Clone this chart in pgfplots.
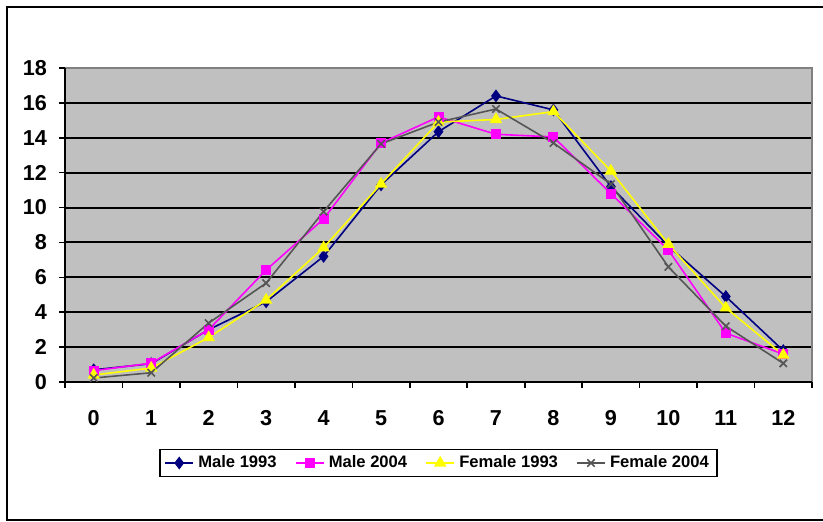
\documentclass[border=0pt]{standalone}
\usepackage{fontspec}
\setmainfont{Liberation Sans}
\usepackage{pgfplots}
\pgfplotsset{compat=1.18}
\definecolor{plotgray}{HTML}{C0C0C0}
\definecolor{navyblue}{HTML}{000080}
\definecolor{mag}{HTML}{FF00FF}
\definecolor{yel}{HTML}{FFFF00}
\definecolor{fem04}{HTML}{555555}
\begin{document}
\begin{tikzpicture}
\useasboundingbox (0pt,0pt) rectangle (411.5pt,260.5pt);
\draw[black, line width=0.7pt] (420pt,0.5pt) -- (3.5pt,0.5pt) -- (3.5pt,257pt) -- (420pt,257pt);
\begin{axis}[
  at={(32.5pt,69.5pt)}, anchor=south west,
  scale only axis, width=373.5pt, height=157pt,
  xmin=-0.5, xmax=12.5, ymin=0, ymax=18,
  axis background/.style={fill=plotgray},
  axis line style={draw=none},
  xtick={0,...,12}, major x tick style={draw=none},
  minor xtick={-0.5,0.5,...,12.5},
  ytick={0,2,...,18},
  xtick pos=bottom, ytick pos=left,
  tick align=outside,
  tick style={black, line width=0.8pt},
  major tick length=3pt, minor tick length=3pt,
  ymajorgrids, grid style={black, line width=1pt},
  every tick label/.append style={font=\fontsize{10.8}{12}\selectfont\bfseries},
  /pgf/number format/assume math mode=true,
  xticklabel style={yshift=-7pt, text height=8pt, text depth=0pt},
  yticklabel style={xshift=-2.5pt},
  clip=false,
  legend columns=4,
  legend style={at={(0.5,-0.258)}, anchor=center, draw=black, line width=0.8pt,
    font=\fontsize{8.3}{10}\selectfont\bfseries, inner xsep=2pt, inner ysep=1pt,
    /tikz/every even column/.append style={column sep=7pt}},
  legend image code/.code={
    \draw[#1, mark=none] (0cm,0cm) -- (0.5cm,0cm);
    \draw[#1, only marks] plot coordinates {(0.25cm,0cm)};
  },
]
\draw[gray, line width=0.6pt] (axis cs:-0.5,18) -- (axis cs:12.5,18) -- (axis cs:12.5,0);
\draw[black, line width=0.8pt] (axis cs:-0.5,18) -- (axis cs:-0.5,0) -- (axis cs:12.5,0);
\addplot[navyblue, line width=0.8pt, mark=diamond*, mark size=2.6pt, mark options={fill=navyblue}] coordinates {
(0,0.7) (1,1.05) (2,3.0) (3,4.6) (4,7.2) (5,11.3) (6,14.35) (7,16.4) (8,15.6) (9,11.2) (10,7.8) (11,4.9) (12,1.8)};
\addlegendentry{Male 1993}
\addplot[mag, line width=0.8pt, mark=square*, mark size=2.1pt, mark options={fill=mag}] coordinates {
(0,0.65) (1,1.08) (2,3.0) (3,6.42) (4,9.35) (5,13.7) (6,15.2) (7,14.2) (8,14.05) (9,10.8) (10,7.57) (11,2.8) (12,1.6)};
\addlegendentry{Male 2004}
\addplot[yel, line width=0.8pt, mark=triangle*, mark size=2.8pt, mark options={fill=yel}] coordinates {
(0,0.4) (1,0.8) (2,2.55) (3,4.7) (4,7.7) (5,11.35) (6,14.9) (7,15.05) (8,15.5) (9,12.1) (10,7.9) (11,4.25) (12,1.55)};
\addlegendentry{Female 1993}
\addplot[fem04, line width=0.8pt, mark=x, mark size=2.6pt] coordinates {
(0,0.23) (1,0.53) (2,3.38) (3,5.67) (4,9.77) (5,13.65) (6,14.9) (7,15.65) (8,13.7) (9,11.35) (10,6.6) (11,3.2) (12,1.07)};
\addlegendentry{Female 2004}
\end{axis}
\end{tikzpicture}
\end{document}
